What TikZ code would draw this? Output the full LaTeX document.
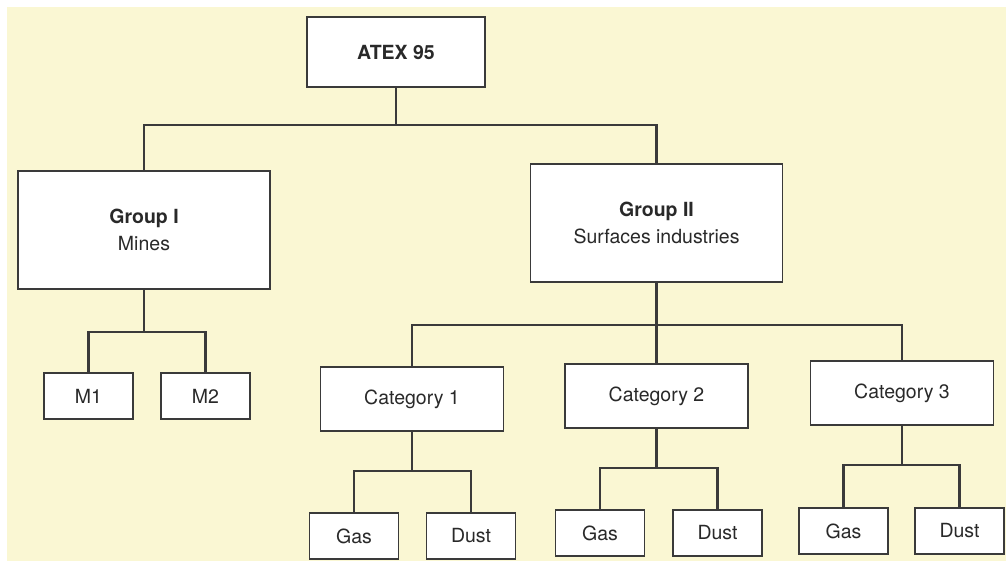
\documentclass[tikz,border=0pt]{standalone}
\usepackage{fontspec}
\setmainfont{TeX Gyre Heros}
\definecolor{paper}{HTML}{FAF7D3}
\definecolor{ink}{HTML}{3A3A3A}

\begin{document}
\begin{tikzpicture}[x=1pt, y=-1pt]
  \tikzset{box/.style={draw=ink, line width=1.6pt, fill=white, align=center, inner sep=0pt,
                       text=ink!70!black, font=\fontsize{19.5}{27}\selectfont},
           groupbox/.style={box, minimum width=252pt, minimum height=118pt},
           catbox/.style={box, minimum width=183pt, minimum height=64pt},
           leafbox/.style={box, minimum width=89pt, minimum height=46pt},
           link/.style={draw=ink, line width=2.8pt}}
  \useasboundingbox (0,0) rectangle (1006,561);
  \fill[white] (0,0) rectangle (1006,561);
  \fill[paper] (7,7) rectangle (1006,561);

  \node[box, minimum width=178pt, minimum height=70pt] (atex) at (396,52) {\textbf{ATEX 95}};
  \node[groupbox] (g1) at (144,230) {\textbf{Group I}\\Mines};
  \node[groupbox] (g2) at (656.5,223) {\textbf{Group II}\\Surfaces industries};
  \node[leafbox] (m1) at (88.5,396) {M1};
  \node[leafbox] (m2) at (205.5,396) {M2};
  \node[catbox] (c1) at (412,399) {Category 1};
  \node[catbox] (c2) at (656.5,396) {Category 2};
  \node[catbox] (c3) at (902,393) {Category 3};
  \node[leafbox] (gas1) at (354,536) {Gas};
  \node[leafbox] (dust1) at (471,536) {Dust};
  \node[leafbox] (gas2) at (600,533) {Gas};
  \node[leafbox] (dust2) at (717.5,533) {Dust};
  \node[leafbox] (gas3) at (843.5,531) {Gas};
  \node[leafbox] (dust3) at (959.5,531) {Dust};

  \coordinate (j0) at (396,125);
  \coordinate (j1) at (144,332);
  \coordinate (j2) at (656.5,325);
  \coordinate (j3) at (412,471);
  \coordinate (j4) at (656.5,468);
  \coordinate (j5) at (902,465);

  \draw[link] (atex.south) -- (j0);
  \draw[link] (g1.north) |- (j0) -| (g2.north);
  \draw[link] (g1.south) -- (j1);
  \draw[link] (m1.north) |- (j1) -| (m2.north);
  \draw[link] (g2.south) -- (j2) -- (c2.north);
  \draw[link] (c1.north) |- (j2) -| (c3.north);
  \draw[link] (c1.south) -- (j3);
  \draw[link] (gas1.north) |- (j3) -| (dust1.north);
  \draw[link] (c2.south) -- (j4);
  \draw[link] (gas2.north) |- (j4) -| (dust2.north);
  \draw[link] (c3.south) -- (j5);
  \draw[link] (gas3.north) |- (j5) -| (dust3.north);
\end{tikzpicture}
\end{document}
